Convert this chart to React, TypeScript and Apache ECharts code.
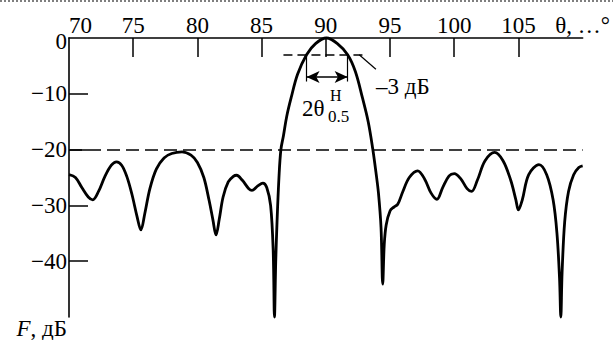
import React, { useEffect, useRef } from "react";
import * as echarts from "echarts";

// Radiation pattern (angle in degrees, level in dB)
const thetaDeg = [
  70.0, 70.5, 71.0, 71.5, 71.85, 72.3, 72.8, 73.3, 73.7, 74.1, 74.5, 74.9, 75.3, 75.6, 75.9, 76.3, 76.8, 77.4, 78.0, 78.8,
  79.5, 80.0, 80.5, 80.9, 81.2, 81.45, 81.7, 82.0, 82.4, 82.8, 83.05, 83.5, 84.0, 84.25, 84.7, 85.1, 85.4, 85.7, 85.9, 86.0,
  86.1, 86.2, 86.35, 86.5, 86.7, 86.95, 87.3, 87.8, 88.5, 89.2, 90.05, 90.9, 91.7, 92.3, 92.85, 93.3, 93.65, 93.9, 94.1, 94.3,
  94.43, 94.55, 94.7, 95.0, 95.3, 95.6, 96.0, 96.5, 97.15, 97.7, 98.2, 98.65, 99.1, 99.6, 100.0, 100.5, 101.0, 101.35, 101.8, 102.4,
  103.15, 103.8, 104.4, 104.8, 105.0, 105.3, 105.8, 106.6, 107.2, 107.7, 108.0, 108.2, 108.3, 108.4, 108.6, 108.9, 109.3, 109.7, 110.0,
];
const levelDb = [
  -24.5, -25.0, -26.8, -28.5, -29.0, -27.5, -24.8, -22.8, -22.2, -22.8, -24.8, -28.0, -32.0, -34.4, -31.5, -27.0, -23.5, -21.5, -20.7, -20.4,
  -21.0, -22.3, -25.0, -29.0, -32.5, -35.3, -32.5, -28.5, -25.8, -24.8, -24.6, -25.5, -27.0, -27.3, -26.5, -26.0, -26.8, -30.0, -38.0, -50.0,
  -40.0, -33.0, -25.0, -20.0, -17.5, -14.1, -10.7, -6.5, -3.0, -1.0, 0.0, -1.0, -3.0, -6.0, -10.7, -15.0, -19.8, -24.0, -27.8, -34.0,
  -44.1, -37.0, -33.5, -31.0, -30.3, -29.8, -27.5, -25.0, -23.8, -25.3, -27.8, -28.9, -26.8, -24.7, -24.3, -25.2, -27.0, -27.5, -25.5, -22.0,
  -20.5, -22.0, -25.5, -29.0, -30.8, -29.0, -24.5, -22.7, -24.5, -29.0, -35.0, -43.0, -50.0, -42.0, -33.0, -27.5, -24.5, -23.2, -22.9,
];

// Axes
const xTickValues = [75, 80, 85, 90, 95, 100, 105];
const xLabelValues = [70, 75, 80, 85, 90, 95, 100, 105, 110];
const yTickValues = [-10, -20, -30, -40];
const yLabelValues = [0, -10, -20, -30, -40, -50];
const xAxisName = "θ, …°";
const yAxisNameMain = "F";
const yAxisNameUnit = ", дБ";

// Annotations
const sidelobeLevel = -20;
const halfPowerLevel = -3;
const halfPowerLineFrom = 86.7;
const halfPowerLineTo = 93.2;
const halfPowerLeft = 88.5;
const halfPowerRight = 91.7;
const witnessBottom = -7.8;
const arrowLevel = -7.0;
const leaderFrom = [92.6, -3.0];
const leaderTo = [93.9, -5.6];
const halfPowerText = "–3 дБ";
const widthMain = "2θ";
const widthSup = "H";
const widthSub = "0.5";

const FONT = "Liberation Serif";

export default function App() {
  const ref = useRef<HTMLDivElement>(null);
  useEffect(() => {
    if (!ref.current) return;
    const chart = echarts.init(ref.current, null, { renderer: "svg" });
    const data = thetaDeg.map((t, i) => [t, levelDb[i]]);
    const black = "#000";
    const txt = (text: string, x: number, y: number, size: number) => ({
      type: "text",
      x,
      y,
      silent: true,
      style: { text, fontFamily: FONT, fontSize: size, fill: black, verticalAlign: "middle" },
    });
    chart.setOption({
      animation: false,
      backgroundColor: "#fff",
      textStyle: { fontFamily: FONT },
      grid: { left: 69, right: 30, top: 38, bottom: 11, containLabel: false },
      xAxis: {
        type: "value",
        position: "top",
        min: 70,
        max: 110,
        interval: 5,
        splitLine: { show: false },
        axisLine: { show: true, onZero: false, lineStyle: { color: black, width: 1.6 } },
        axisTick: { show: true, inside: true, length: 19, customValues: xTickValues, lineStyle: { color: black, width: 1.5 } },
        axisLabel: {
          customValues: xLabelValues,
          color: black,
          fontFamily: FONT,
          fontSize: 23,
          margin: 1,
          alignMinLabel: "left",
          formatter: (v: number) => (v === 110 ? xAxisName : String(v)),
        },
      },
      yAxis: {
        type: "value",
        min: -50,
        max: 0,
        interval: 10,
        splitLine: { show: false },
        axisLine: { show: true, onZero: false, lineStyle: { color: black, width: 1.6 } },
        axisTick: { show: true, inside: true, length: 19, customValues: yTickValues, lineStyle: { color: black, width: 1.5 } },
        axisLabel: {
          customValues: yLabelValues,
          color: black,
          fontFamily: FONT,
          fontSize: 23,
          margin: 2,
          verticalAlignMaxLabel: "top",
          formatter: (v: number) =>
            v === -50
              ? `{i|${yAxisNameMain}}{n|${yAxisNameUnit}}`
              : v === 0
              ? "{z|0}"
              : "−" + Math.abs(v),
          rich: {
            i: { fontStyle: "italic", fontFamily: FONT, fontSize: 23, color: black },
            n: { fontFamily: FONT, fontSize: 23, color: black },
            z: { fontFamily: FONT, fontSize: 23, color: black, padding: [6, 0, 0, 0] },
          },
        },
      },
      series: [
        {
          type: "line",
          data,
          smooth: 0.35,
          symbol: "none",
          clip: false,
          lineStyle: { color: black, width: 2.8 },
          silent: true,
          markLine: {
            silent: true,
            symbol: ["none", "none"],
            label: { show: false },
            emphasis: { disabled: true },
            data: [
              [
                { coord: [70, sidelobeLevel], lineStyle: { color: black, width: 1.6, type: [13, 6] } },
                { coord: [110, sidelobeLevel] },
              ],
              [
                { coord: [halfPowerLineFrom, halfPowerLevel], lineStyle: { color: black, width: 1.5, type: [9, 5] } },
                { coord: [halfPowerLineTo, halfPowerLevel] },
              ],
              [
                { coord: [halfPowerLeft, halfPowerLevel], lineStyle: { color: black, width: 1.2, type: "solid" } },
                { coord: [halfPowerLeft, witnessBottom] },
              ],
              [
                { coord: [halfPowerRight, halfPowerLevel], lineStyle: { color: black, width: 1.2, type: "solid" } },
                { coord: [halfPowerRight, witnessBottom] },
              ],
              [
                { coord: leaderFrom, lineStyle: { color: black, width: 1.2, type: "solid" } },
                { coord: leaderTo },
              ],
              [
                {
                  coord: [halfPowerLeft, arrowLevel],
                  symbol: "arrow",
                  symbolSize: [9, 13],
                  lineStyle: { color: black, width: 1.6, type: "solid" },
                  itemStyle: { color: black },
                },
                { coord: [halfPowerRight, arrowLevel], symbol: "arrow", symbolSize: [9, 13], itemStyle: { color: black } },
              ],
            ],
          },
        },
      ],
      graphic: [
        {
          type: "line",
          shape: { x1: 0, y1: 1, x2: 613, y2: 1 },
          style: { stroke: "#555", lineWidth: 1.5, lineDash: [2, 2] },
          silent: true,
        },
        txt(halfPowerText, 376, 86, 23),
        txt(widthMain, 302, 108, 23),
        txt(widthSup, 330, 95, 16),
        txt(widthSub, 328, 116, 17),
      ],
    });
    return () => chart.dispose();
  }, []);
  return (
    <div
      ref={ref}
      style={{ position: "fixed", left: 0, top: 0, width: 613, height: 340, background: "#fff" }}
    />
  );
}
